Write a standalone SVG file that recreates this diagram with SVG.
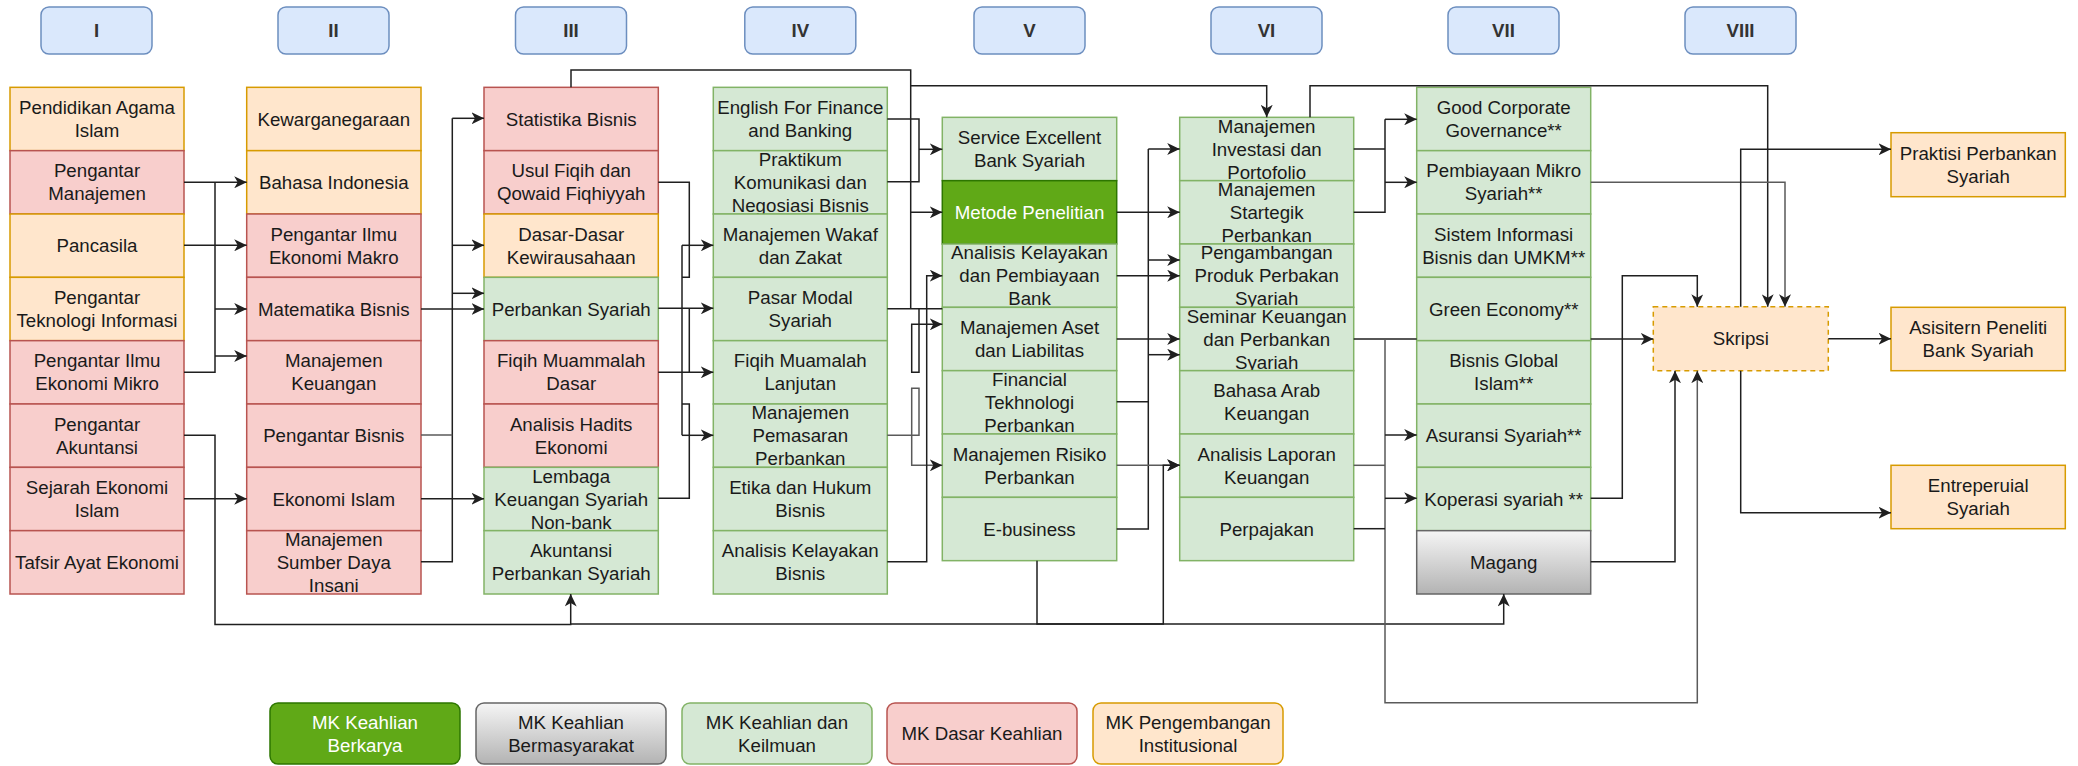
<svg xmlns="http://www.w3.org/2000/svg" width="2078" height="766" viewBox="0 0 2078 766">
<defs>
<style>
.t{font-family:"Liberation Sans",Arial,sans-serif;font-size:18.7px;fill:#1a1a1a;text-anchor:middle}
.w{fill:#ffffff}
.h{font-weight:bold;fill:#333333}
.o{fill:#ffe6cc;stroke:#d79b00;stroke-width:1.5}
.r{fill:#f8cecc;stroke:#b85450;stroke-width:1.5}
.g{fill:#d5e8d4;stroke:#82b366;stroke-width:1.5}
.dg{fill:#60a917;stroke:#2d7600;stroke-width:1.5}
.gy{fill:url(#gray);stroke:#666666;stroke-width:1.5}
.hd{fill:#dae8fc;stroke:#6c8ebf;stroke-width:1.5}
.c{fill:none;stroke:#1f1f1f;stroke-width:1.5}
.cg{fill:none;stroke:#5a5a5a;stroke-width:1.5}
.a{marker-end:url(#arr)}
</style>
<linearGradient id="gray" x1="0" y1="0" x2="0" y2="1">
<stop offset="0" stop-color="#f5f5f5"/>
<stop offset="1" stop-color="#b3b3b3"/>
</linearGradient>
<marker id="arr" markerUnits="userSpaceOnUse" markerWidth="14" markerHeight="12" refX="12.5" refY="6" orient="auto" viewBox="0 0 14 12">
<path d="M0,0 L12.5,6 L0,12 L3.5,6 Z" fill="#1f1f1f"/>
</marker>
</defs>
<rect width="2078" height="766" fill="#ffffff"/>

<g id="headers">
<g id="h1"><rect class="hd" x="41" y="7" width="111" height="47" rx="8"/><text class="t h" x="96.5" y="37">I</text></g>
<g id="h2"><rect class="hd" x="278" y="7" width="111" height="47" rx="8"/><text class="t h" x="333.5" y="37">II</text></g>
<g id="h3"><rect class="hd" x="515.5" y="7" width="111" height="47" rx="8"/><text class="t h" x="571" y="37">III</text></g>
<g id="h4"><rect class="hd" x="744.8" y="7" width="111" height="47" rx="8"/><text class="t h" x="800.3" y="37">IV</text></g>
<g id="h5"><rect class="hd" x="974" y="7" width="111" height="47" rx="8"/><text class="t h" x="1029.5" y="37">V</text></g>
<g id="h6"><rect class="hd" x="1211" y="7" width="111" height="47" rx="8"/><text class="t h" x="1266.5" y="37">VI</text></g>
<g id="h7"><rect class="hd" x="1448" y="7" width="111" height="47" rx="8"/><text class="t h" x="1503.5" y="37">VII</text></g>
<g id="h8"><rect class="hd" x="1685" y="7" width="111" height="47" rx="8"/><text class="t h" x="1740.5" y="37">VIII</text></g>
</g>

<g id="col1">
<g id="n1-1"><rect class="o" x="10" y="87.33" width="174" height="63.33"/><text class="t" x="97" y="114">Pendidikan Agama<tspan x="97" dy="23">Islam</tspan></text></g>
<g id="n1-2"><rect class="r" x="10" y="150.67" width="174" height="63.33"/><text class="t" x="97" y="177.3">Pengantar<tspan x="97" dy="23">Manajemen</tspan></text></g>
<g id="n1-3"><rect class="o" x="10" y="214" width="174" height="63.33"/><text class="t" x="97" y="252.2">Pancasila</text></g>
<g id="n1-4"><rect class="o" x="10" y="277.33" width="174" height="63.33"/><text class="t" x="97" y="304">Pengantar<tspan x="97" dy="23">Teknologi Informasi</tspan></text></g>
<g id="n1-5"><rect class="r" x="10" y="340.67" width="174" height="63.33"/><text class="t" x="97" y="367.3">Pengantar Ilmu<tspan x="97" dy="23">Ekonomi Mikro</tspan></text></g>
<g id="n1-6"><rect class="r" x="10" y="404" width="174" height="63.33"/><text class="t" x="97" y="430.7">Pengantar<tspan x="97" dy="23">Akuntansi</tspan></text></g>
<g id="n1-7"><rect class="r" x="10" y="467.33" width="174" height="63.33"/><text class="t" x="97" y="494">Sejarah Ekonomi<tspan x="97" dy="23">Islam</tspan></text></g>
<g id="n1-8"><rect class="r" x="10" y="530.67" width="174" height="63.33"/><text class="t" x="97" y="568.8">Tafsir Ayat Ekonomi</text></g>
</g>

<g id="col2">
<g id="n2-1"><rect class="o" x="246.7" y="87.33" width="174.3" height="63.33"/><text class="t" x="333.8" y="125.5">Kewarganegaraan</text></g>
<g id="n2-2"><rect class="o" x="246.7" y="150.67" width="174.3" height="63.33"/><text class="t" x="333.8" y="188.8">Bahasa Indonesia</text></g>
<g id="n2-3"><rect class="r" x="246.7" y="214" width="174.3" height="63.33"/><text class="t" x="333.8" y="240.7">Pengantar Ilmu<tspan x="333.8" dy="23">Ekonomi Makro</tspan></text></g>
<g id="n2-4"><rect class="r" x="246.7" y="277.33" width="174.3" height="63.33"/><text class="t" x="333.8" y="315.5">Matematika Bisnis</text></g>
<g id="n2-5"><rect class="r" x="246.7" y="340.67" width="174.3" height="63.33"/><text class="t" x="333.8" y="367.3">Manajemen<tspan x="333.8" dy="23">Keuangan</tspan></text></g>
<g id="n2-6"><rect class="r" x="246.7" y="404" width="174.3" height="63.33"/><text class="t" x="333.8" y="442.2">Pengantar Bisnis</text></g>
<g id="n2-7"><rect class="r" x="246.7" y="467.33" width="174.3" height="63.33"/><text class="t" x="333.8" y="505.5">Ekonomi Islam</text></g>
<g id="n2-8"><rect class="r" x="246.7" y="530.67" width="174.3" height="63.33"/><text class="t" x="333.8" y="545.8">Manajemen<tspan x="333.8" dy="23">Sumber Daya</tspan><tspan x="333.8" dy="23">Insani</tspan></text></g>
</g>

<g id="col3">
<g id="n3-1"><rect class="r" x="484" y="87.33" width="174.3" height="63.33"/><text class="t" x="571.2" y="125.5">Statistika Bisnis</text></g>
<g id="n3-2"><rect class="r" x="484" y="150.67" width="174.3" height="63.33"/><text class="t" x="571.2" y="177.3">Usul Fiqih dan<tspan x="571.2" dy="23">Qowaid Fiqhiyyah</tspan></text></g>
<g id="n3-3"><rect class="o" x="484" y="214" width="174.3" height="63.33"/><text class="t" x="571.2" y="240.7">Dasar-Dasar<tspan x="571.2" dy="23">Kewirausahaan</tspan></text></g>
<g id="n3-4"><rect class="g" x="484" y="277.33" width="174.3" height="63.33"/><text class="t" x="571.2" y="315.5">Perbankan Syariah</text></g>
<g id="n3-5"><rect class="r" x="484" y="340.67" width="174.3" height="63.33"/><text class="t" x="571.2" y="367.3">Fiqih Muammalah<tspan x="571.2" dy="23">Dasar</tspan></text></g>
<g id="n3-6"><rect class="r" x="484" y="404" width="174.3" height="63.33"/><text class="t" x="571.2" y="430.7">Analisis Hadits<tspan x="571.2" dy="23">Ekonomi</tspan></text></g>
<g id="n3-7"><rect class="g" x="484" y="467.33" width="174.3" height="63.33"/><text class="t" x="571.2" y="482.5">Lembaga<tspan x="571.2" dy="23">Keuangan Syariah</tspan><tspan x="571.2" dy="23">Non-bank</tspan></text></g>
<g id="n3-8"><rect class="g" x="484" y="530.67" width="174.3" height="63.33"/><text class="t" x="571.2" y="557.3">Akuntansi<tspan x="571.2" dy="23">Perbankan Syariah</tspan></text></g>
</g>

<g id="col4">
<g id="n4-1"><rect class="g" x="713.3" y="87.33" width="174" height="63.33"/><text class="t" x="800.3" y="114">English For Finance<tspan x="800.3" dy="23">and Banking</tspan></text></g>
<g id="n4-2"><rect class="g" x="713.3" y="150.67" width="174" height="63.33"/><text class="t" x="800.3" y="165.8">Praktikum<tspan x="800.3" dy="23">Komunikasi dan</tspan><tspan x="800.3" dy="23">Negosiasi Bisnis</tspan></text></g>
<g id="n4-3"><rect class="g" x="713.3" y="214" width="174" height="63.33"/><text class="t" x="800.3" y="240.7">Manajemen Wakaf<tspan x="800.3" dy="23">dan Zakat</tspan></text></g>
<g id="n4-4"><rect class="g" x="713.3" y="277.33" width="174" height="63.33"/><text class="t" x="800.3" y="304">Pasar Modal<tspan x="800.3" dy="23">Syariah</tspan></text></g>
<g id="n4-5"><rect class="g" x="713.3" y="340.67" width="174" height="63.33"/><text class="t" x="800.3" y="367.3">Fiqih Muamalah<tspan x="800.3" dy="23">Lanjutan</tspan></text></g>
<g id="n4-6"><rect class="g" x="713.3" y="404" width="174" height="63.33"/><text class="t" x="800.3" y="419.2">Manajemen<tspan x="800.3" dy="23">Pemasaran</tspan><tspan x="800.3" dy="23">Perbankan</tspan></text></g>
<g id="n4-7"><rect class="g" x="713.3" y="467.33" width="174" height="63.33"/><text class="t" x="800.3" y="494">Etika dan Hukum<tspan x="800.3" dy="23">Bisnis</tspan></text></g>
<g id="n4-8"><rect class="g" x="713.3" y="530.67" width="174" height="63.33"/><text class="t" x="800.3" y="557.3">Analisis Kelayakan<tspan x="800.3" dy="23">Bisnis</tspan></text></g>
</g>

<g id="col5">
<g id="n5-1"><rect class="g" x="942.3" y="117.33" width="174.4" height="63.33"/><text class="t" x="1029.5" y="144">Service Excellent<tspan x="1029.5" dy="23">Bank Syariah</tspan></text></g>
<g id="n5-2"><rect class="dg" x="942.3" y="180.67" width="174.4" height="63.33"/><text class="t w" x="1029.5" y="218.8">Metode Penelitian</text></g>
<g id="n5-3"><rect class="g" x="942.3" y="244" width="174.4" height="63.33"/><text class="t" x="1029.5" y="259.2">Analisis Kelayakan<tspan x="1029.5" dy="23">dan Pembiayaan</tspan><tspan x="1029.5" dy="23">Bank</tspan></text></g>
<g id="n5-4"><rect class="g" x="942.3" y="307.33" width="174.4" height="63.33"/><text class="t" x="1029.5" y="334">Manajemen Aset<tspan x="1029.5" dy="23">dan Liabilitas</tspan></text></g>
<g id="n5-5"><rect class="g" x="942.3" y="370.67" width="174.4" height="63.33"/><text class="t" x="1029.5" y="385.8">Financial<tspan x="1029.5" dy="23">Tekhnologi</tspan><tspan x="1029.5" dy="23">Perbankan</tspan></text></g>
<g id="n5-6"><rect class="g" x="942.3" y="434" width="174.4" height="63.33"/><text class="t" x="1029.5" y="460.7">Manajemen Risiko<tspan x="1029.5" dy="23">Perbankan</tspan></text></g>
<g id="n5-7"><rect class="g" x="942.3" y="497.33" width="174.4" height="63.33"/><text class="t" x="1029.5" y="535.5">E-business</text></g>
</g>

<g id="col6">
<g id="n6-1"><rect class="g" x="1179.7" y="117.33" width="174" height="63.33"/><text class="t" x="1266.7" y="132.5">Manajemen<tspan x="1266.7" dy="23">Investasi dan</tspan><tspan x="1266.7" dy="23">Portofolio</tspan></text></g>
<g id="n6-2"><rect class="g" x="1179.7" y="180.67" width="174" height="63.33"/><text class="t" x="1266.7" y="195.8">Manajemen<tspan x="1266.7" dy="23">Startegik</tspan><tspan x="1266.7" dy="23">Perbankan</tspan></text></g>
<g id="n6-3"><rect class="g" x="1179.7" y="244" width="174" height="63.33"/><text class="t" x="1266.7" y="259.2">Pengambangan<tspan x="1266.7" dy="23">Produk Perbakan</tspan><tspan x="1266.7" dy="23">Syariah</tspan></text></g>
<g id="n6-4"><rect class="g" x="1179.7" y="307.33" width="174" height="63.33"/><text class="t" x="1266.7" y="322.5">Seminar Keuangan<tspan x="1266.7" dy="23">dan Perbankan</tspan><tspan x="1266.7" dy="23">Syariah</tspan></text></g>
<g id="n6-5"><rect class="g" x="1179.7" y="370.67" width="174" height="63.33"/><text class="t" x="1266.7" y="397.3">Bahasa Arab<tspan x="1266.7" dy="23">Keuangan</tspan></text></g>
<g id="n6-6"><rect class="g" x="1179.7" y="434" width="174" height="63.33"/><text class="t" x="1266.7" y="460.7">Analisis Laporan<tspan x="1266.7" dy="23">Keuangan</tspan></text></g>
<g id="n6-7"><rect class="g" x="1179.7" y="497.33" width="174" height="63.33"/><text class="t" x="1266.7" y="535.5">Perpajakan</text></g>
</g>

<g id="col7">
<g id="n7-1"><rect class="g" x="1416.7" y="87.33" width="174" height="63.33"/><text class="t" x="1503.7" y="114">Good Corporate<tspan x="1503.7" dy="23">Governance**</tspan></text></g>
<g id="n7-2"><rect class="g" x="1416.7" y="150.67" width="174" height="63.33"/><text class="t" x="1503.7" y="177.3">Pembiayaan Mikro<tspan x="1503.7" dy="23">Syariah**</tspan></text></g>
<g id="n7-3"><rect class="g" x="1416.7" y="214" width="174" height="63.33"/><text class="t" x="1503.7" y="240.7">Sistem Informasi<tspan x="1503.7" dy="23">Bisnis dan UMKM**</tspan></text></g>
<g id="n7-4"><rect class="g" x="1416.7" y="277.33" width="174" height="63.33"/><text class="t" x="1503.7" y="315.5">Green Economy**</text></g>
<g id="n7-5"><rect class="g" x="1416.7" y="340.67" width="174" height="63.33"/><text class="t" x="1503.7" y="367.3">Bisnis Global<tspan x="1503.7" dy="23">Islam**</tspan></text></g>
<g id="n7-6"><rect class="g" x="1416.7" y="404" width="174" height="63.33"/><text class="t" x="1503.7" y="442.2">Asuransi Syariah**</text></g>
<g id="n7-7"><rect class="g" x="1416.7" y="467.33" width="174" height="63.33"/><text class="t" x="1503.7" y="505.5">Koperasi syariah **</text></g>
<g id="n7-8"><rect class="gy" x="1416.7" y="530.67" width="174" height="63.33"/><text class="t" x="1503.7" y="568.8">Magang</text></g>
</g>

<g id="skripsi"><rect x="1653.3" y="306.7" width="175" height="64" fill="#ffe6cc" stroke="#d79b00" stroke-width="1.5" stroke-dasharray="5,4"/><text class="t" x="1740.8" y="345.2">Skripsi</text></g>
<g id="out1"><rect class="o" x="1891" y="132.7" width="174.3" height="64"/><text class="t" x="1978.2" y="159.7">Praktisi Perbankan<tspan x="1978.2" dy="23">Syariah</tspan></text></g>
<g id="out2"><rect class="o" x="1891" y="307.3" width="174.3" height="63.4"/><text class="t" x="1978.2" y="334">Asisitern Peneliti<tspan x="1978.2" dy="23">Bank Syariah</tspan></text></g>
<g id="out3"><rect class="o" x="1891" y="465.3" width="174.3" height="63.4"/><text class="t" x="1978.2" y="492">Entreperuial<tspan x="1978.2" dy="23">Syariah</tspan></text></g>

<g id="legend">
<g id="lg1"><rect class="dg" x="270" y="703" width="190" height="61" rx="8"/><text class="t w" x="365" y="728.5">MK Keahlian<tspan x="365" dy="23">Berkarya</tspan></text></g>
<g id="lg2"><rect class="gy" x="476" y="703" width="190" height="61" rx="8"/><text class="t" x="571" y="728.5">MK Keahlian<tspan x="571" dy="23">Bermasyarakat</tspan></text></g>
<g id="lg3"><rect class="g" x="682" y="703" width="190" height="61" rx="8"/><text class="t" x="777" y="728.5">MK Keahlian dan<tspan x="777" dy="23">Keilmuan</tspan></text></g>
<g id="lg4"><rect class="r" x="887" y="703" width="190" height="61" rx="8"/><text class="t" x="982" y="740">MK Dasar Keahlian</text></g>
<g id="lg5"><rect class="o" x="1093" y="703" width="190" height="61" rx="8"/><text class="t" x="1188" y="728.5">MK Pengembangan<tspan x="1188" dy="23">Institusional</tspan></text></g>
</g>

<g id="connectors">
<path class="c a" d="M184,182.3 H246.7"/>
<path class="c" d="M215,182.3 V372.3 H184"/>
<path class="c a" d="M184,245.3 H246.7"/>
<path class="c a" d="M215,309 H246.7"/>
<path class="c a" d="M215,356 H246.7"/>
<path class="c a" d="M184,435.3 H215 V624.5 H570.7 V594"/>
<path class="c a" d="M184,498.7 H246.7"/>
<path class="c a" d="M421,309 H484"/>
<path class="c" d="M452.3,118.3 V561.7 H421"/>
<path class="c a" d="M452.3,118.3 H484"/>
<path class="c a" d="M452.3,245.3 H484"/>
<path class="c a" d="M452.3,293.3 H484"/>
<path class="cg" d="M421,435 H452.3"/>
<path class="c a" d="M421,498.7 H484"/>

<path class="c" d="M658.3,182.3 H689.3 V277.3 H682"/>
<path class="c" d="M682,245.3 V435.3"/>
<path class="c a" d="M682,245.3 H713.3"/>
<path class="c a" d="M682,435.3 H713.3"/>
<path class="c a" d="M658.3,308.3 H713.3"/>
<path class="c" d="M689.3,308.3 V372.3"/>
<path class="c a" d="M658.3,372.3 H713.3"/>
<path class="c" d="M658.3,498.3 H689.3 V404 H682"/>

<path class="c" d="M887.3,119 H919 V181.7 H887.3"/>
<path class="c a" d="M919,149.3 H942.3"/>
<path class="c" d="M571,87.3 V70 H910.7 V308.7"/>
<path class="c a" d="M910.7,85.7 H1266.7 V117.3"/>
<path class="c a" d="M910.7,212.3 H942.3"/>
<path class="c" d="M887.3,308.7 H942.3"/>
<path class="c a" d="M919,308.7 V372.3 H911.7 V324.3 H942.3"/>
<path class="cg a" d="M887.3,435.3 H919 V388.3 H911.7 V465.3 H942.3"/>
<path class="c a" d="M887.3,561.7 H926.7 V275.7 H942.3"/>

<path class="c" d="M1148.3,149 V529 H1116.7"/>
<path class="c a" d="M1148.3,149 H1179.7"/>
<path class="c a" d="M1148.3,260 H1179.7"/>
<path class="c a" d="M1148.3,354.7 H1179.7"/>
<path class="c a" d="M1116.7,212.3 H1179.7"/>
<path class="c a" d="M1116.7,275.7 H1179.7"/>
<path class="c a" d="M1116.7,339 H1179.7"/>
<path class="c" d="M1116.7,401.7 H1148.3"/>
<path class="cg a" d="M1116.7,465.3 H1179.7"/>
<path class="c a" d="M1037,560.7 V624 H1163.3 V465.3 H1179.7"/>
<path class="c a" d="M570.7,624 H1503.7 V594"/>

<path class="c" d="M1353.7,149 H1385"/>
<path class="c" d="M1385,119.3 V212.3 H1353.7"/>
<path class="c a" d="M1385,119.3 H1416.7"/>
<path class="c a" d="M1385,182.3 H1416.7"/>
<path class="c a" d="M1310,117.3 V85.7 H1767.7 V306.7"/>
<path class="c" d="M1353.7,339 H1416.7"/>
<path class="cg a" d="M1385,339 V702.7 H1697.3 V370.7"/>
<path class="cg" d="M1353.7,465.3 H1385"/>
<path class="c" d="M1353.7,528.7 H1385"/>
<path class="c a" d="M1385,435 H1416.7"/>
<path class="c a" d="M1385,498.3 H1416.7"/>

<path class="cg a" d="M1590.7,182.3 H1785 V306.7"/>
<path class="c a" d="M1590.7,339 H1653.3"/>
<path class="c a" d="M1590.7,498.3 H1622.3 V275.7 H1697.3 V306.7"/>
<path class="c a" d="M1590.7,561.7 H1675 V370.7"/>
<path class="c a" d="M1740.7,306.7 V149.3 H1891"/>
<path class="c a" d="M1828.3,338.7 H1891"/>
<path class="c a" d="M1740.7,370.7 V512.7 H1891"/>
</g>
</svg>
